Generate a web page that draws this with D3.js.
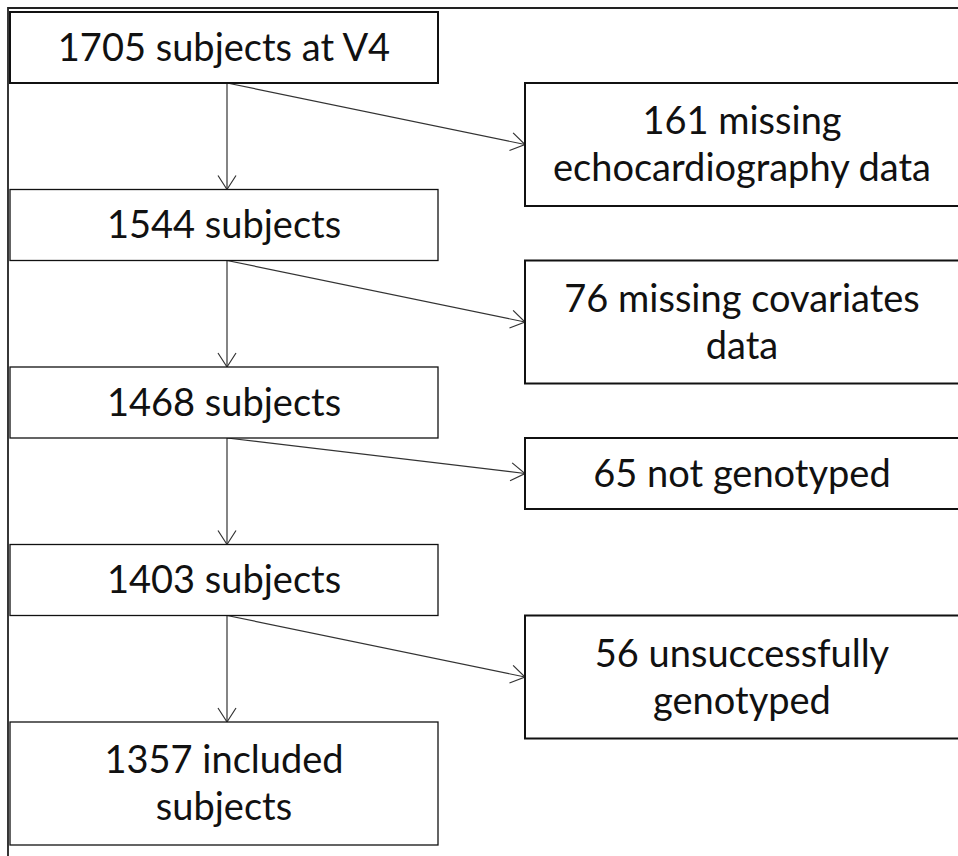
<!DOCTYPE html>
<html>
<head>
<meta charset="utf-8">
<script src="https://cdn.jsdelivr.net/npm/d3@7"></script>
<style>
  body { margin: 0; background: #fff; }
  svg { display: block; }
  text { font-family: Lato, "Open Sans", sans-serif; fill: #111; }
</style>
</head>
<body>
<div id="chart"></div>
<script>
// flow steps (left column) and exclusions (right column)
const steps = [['1705 subjects at V4'], ['1544 subjects'], ['1468 subjects'], ['1403 subjects'], ['1357 included', 'subjects']]
const exclusions = [['161 missing', 'echocardiography data'], ['76 missing covariates', 'data'], ['65 not genotyped'], ['56 unsuccessfully', 'genotyped']]

const width = 958, height = 856
const svg = d3.select('#chart').append('svg')
  .attr('width', width)
  .attr('height', height)

// outer frame (only top and left visible)
svg.append('path')
  .attr('d', `M8,${height} V8 H${width}`)
  .attr('fill', 'none')
  .attr('stroke', '#222')
  .attr('stroke-width', 1.8)

const y = d3.scaleLinear().domain([0, 4]).range([12, 722])
const oneLine = 71, twoLine = 123, lineGap = 47
const boxH = lines => lines.length > 1 ? twoLine : oneLine
const leftX = 10, leftW = 428, rightX = 525, rightW = 434
const stemX = 227

svg.append('defs').append('marker')
  .attr('id', 'arrow')
  .attr('viewBox', '0 0 18 20')
  .attr('refX', 16).attr('refY', 10)
  .attr('markerWidth', 18).attr('markerHeight', 20)
  .attr('markerUnits', 'userSpaceOnUse')
  .attr('orient', 'auto')
  .append('path')
  .attr('d', 'M2,1 L16,10 L2,19')
  .attr('fill', 'none')
  .attr('stroke', '#333')
  .attr('stroke-width', 1.2)

function drawBox (g, x, top, w, lines, sw) {
  const h = boxH(lines)
  g.append('rect')
    .attr('x', x).attr('y', top)
    .attr('width', w).attr('height', h)
    .attr('fill', '#fff')
    .attr('stroke', '#111')
    .attr('stroke-width', sw)
  const cy = top + h / 2
  g.selectAll(null)
    .data(lines)
    .join('text')
    .attr('x', x + w / 2)
    .attr('y', (d, i) => cy + (i - (lines.length - 1) / 2) * lineGap)
    .attr('dy', '0.35em')
    .attr('text-anchor', 'middle')
    .attr('font-size', 38)
    .text(d => d)
}

const links = svg.append('g')
const boxes = svg.append('g')

steps.forEach((lines, i) => {
  drawBox(boxes, leftX, y(i), leftW, lines, i === 0 ? 2 : 1.3)
})

exclusions.forEach((lines, i) => {
  const top = y(i) + oneLine
  drawBox(boxes, rightX, top, rightW, lines, 2)
  // down arrow to next step
  links.append('line')
    .attr('x1', stemX).attr('y1', top)
    .attr('x2', stemX).attr('y2', y(i + 1))
    .attr('stroke', '#333').attr('stroke-width', 1.2)
    .attr('marker-end', 'url(#arrow)')
  // side arrow to exclusion box
  links.append('line')
    .attr('x1', stemX).attr('y1', top)
    .attr('x2', rightX).attr('y2', top + boxH(lines) / 2)
    .attr('stroke', '#333').attr('stroke-width', 1.2)
    .attr('marker-end', 'url(#arrow)')
})
</script>
</body>
</html>
